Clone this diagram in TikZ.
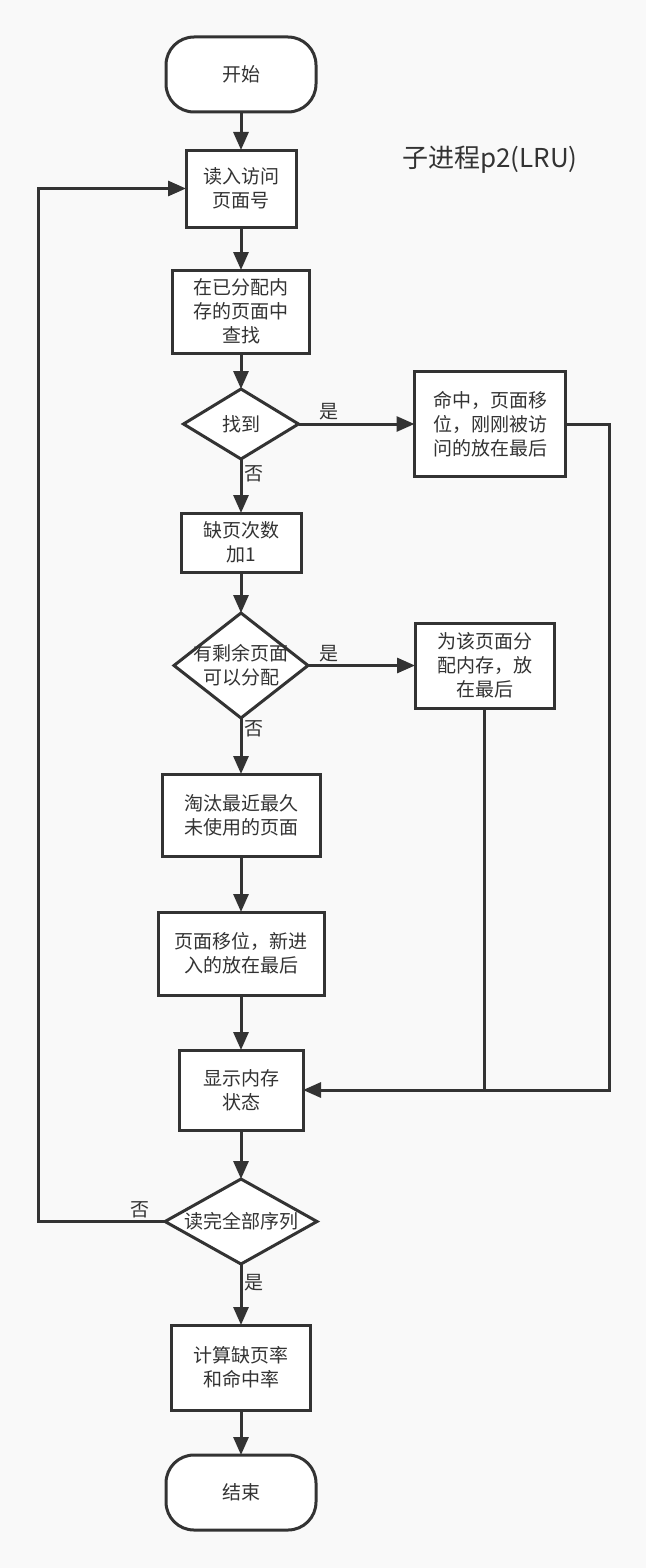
\documentclass[tikz,border=0pt]{standalone}
\usepackage{fontspec}
\usepackage{xcolor}
\usepackage{tikz}
\usetikzlibrary{positioning,arrows.meta,shapes.geometric}
\newfontfamily\cjk{Noto Sans CJK SC}
\definecolor{ctexto}{HTML}{333333}
\definecolor{cfondo}{HTML}{F9F9F9}
\newcommand{\fuente}{\cjk\fontsize{19}{24}\selectfont}
\tikzset{
  caja/.style={rectangle, draw=ctexto, fill=white, line width=3pt, outer sep=0pt,
    inner sep=0pt, align=center, text=ctexto, font=\fuente},
  terminal/.style={caja, rounded corners=28pt, minimum width=150pt, minimum height=75pt},
  rombo/.style={diamond, draw=ctexto, fill=white, line width=3pt, inner sep=0pt, outer sep=0pt,
    label={[align=center, text=ctexto, font=\fuente]center:#1}},
  flecha/.style={-{Triangle[length=18pt, width=15pt]}, line width=3pt, draw=ctexto},
  linea/.style={line width=3pt, draw=ctexto},
  etq/.style={font=\cjk\fontsize{19}{20}\selectfont, text=ctexto, inner sep=2pt},
}
\begin{document}
\begin{tikzpicture}[x=1pt, y=1pt]
  \useasboundingbox[fill=cfondo] (0,0) rectangle (646,-1568);
  % columna principal
  \node[terminal] (inicio) at (241,-74.5) {开始};
  \node[caja, minimum width=110pt, minimum height=77pt, below=38pt of inicio] (leer) {读入访问\\页面号};
  \node[caja, minimum width=137pt, minimum height=83pt, below=43pt of leer] (buscar) {在已分配内\\存的页面中\\查找};
  \node[rombo={找到}, minimum width=115pt, minimum height=70pt, below=36pt of buscar] (hallado) {};
  \node[caja, minimum width=120pt, minimum height=59pt, below=54pt of hallado] (fallo) {缺页次数\\加1};
  \node[rombo={有剩余页面\\可以分配}, minimum width=134pt, minimum height=105pt, below=41pt of fallo] (libre) {};
  \node[caja, minimum width=158pt, minimum height=82pt, below=56pt of libre] (expulsar) {淘汰最近最久\\未使用的页面};
  \node[caja, minimum width=166pt, minimum height=83pt, below=56pt of expulsar] (mover) {页面移位，新进\\入的放在最后};
  \node[caja, minimum width=124pt, minimum height=80pt, below=55pt of mover] (mostrar) {显示内存\\状态};
  \node[rombo={读完全部序列}, minimum width=152pt, minimum height=85pt, below=49pt of mostrar] (fin) {};
  \node[caja, minimum width=139pt, minimum height=85pt, below=61pt of fin] (calcular) {计算缺页率\\和命中率};
  \node[terminal, below=45pt of calcular] (final) {结束};
  % ramas de la derecha
  \node[caja, minimum width=151pt, minimum height=105pt, right=116pt of hallado] (acierto) {命中，页面移\\位，刚刚被访\\问的放在最后};
  \node[caja, minimum width=139pt, minimum height=85pt, right=107pt of libre] (asignar) {为该页面分\\配内存，放\\在最后};
  \node[text=ctexto, font=\cjk\fontsize{26}{30}\selectfont] (titulo) at (490,-160) {子进程p2(LRU)};

  \draw[flecha] (inicio) -- (leer);
  \draw[flecha] (leer) -- (buscar);
  \draw[flecha] (buscar) -- (hallado);
  \draw[flecha] (hallado) -- node[etq, pos=0.28, right] {否} (fallo);
  \draw[flecha] (hallado) -- node[etq, pos=0.26, above] {是} (acierto);
  \draw[flecha] (fallo) -- (libre);
  \draw[flecha] (libre) -- node[etq, pos=0.2, right] {否} (expulsar);
  \draw[flecha] (libre) -- node[etq, pos=0.2, above] {是} (asignar);
  \draw[flecha] (expulsar) -- (mover);
  \draw[flecha] (mover) -- (mostrar);
  \draw[flecha] (acierto.east) -- ++(44,0) |- (mostrar.east);
  \draw[linea] (asignar.south) -- (asignar.south |- mostrar.east);
  \draw[flecha] (mostrar) -- (fin);
  \draw[flecha] (fin) -- node[etq, pos=0.3, right] {是} (calcular);
  \draw[flecha] (fin.west) -- node[etq, pos=0.2, above] {否} ++(-127,0) |- (leer.west);
  \draw[flecha] (calcular) -- (final);
\end{tikzpicture}
\end{document}
